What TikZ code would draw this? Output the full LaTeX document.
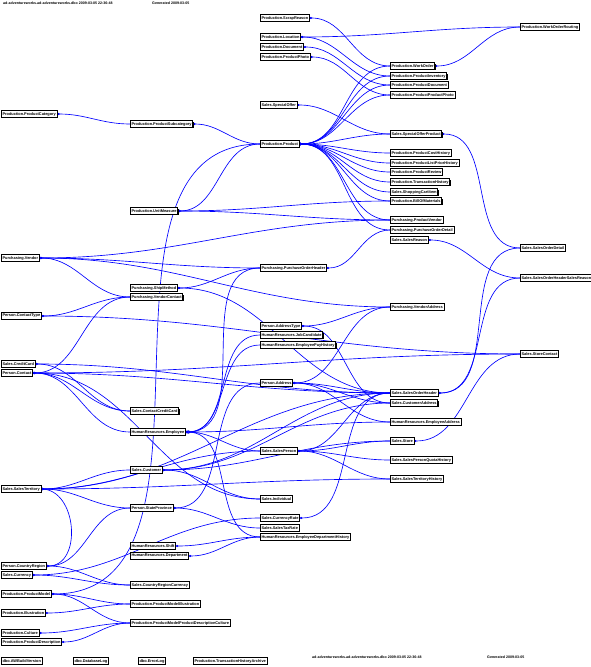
\documentclass[tikz,border=0pt]{standalone}
\usepackage{fontspec}
\setmainfont{Liberation Sans}
\usetikzlibrary{arrows.meta,shadows}
\pgfdeclarelayer{bg}
\pgfsetlayers{bg,main}
\tikzset{
  tbl/.style={draw=black, line width=0.75pt, fill=white, anchor=west,
    font=\fontsize{3.9}{4}\selectfont\bfseries, inner xsep=1.2pt, inner ysep=0pt,
    minimum height=6.3pt,
    drop shadow={shadow xshift=0.8pt, shadow yshift=-0.8pt, opacity=1, fill=black}},
  link/.style={draw=blue, line width=0.65pt, {Circle[length=2.2pt]}-},
  hdr/.style={anchor=west, inner sep=0pt, font=\fontsize{3.6}{4}\selectfont\bfseries},
}
\newcommand\lk[2]{\draw[link] (#1.east) to[out=0,in=180] (#2.west);}
\begin{document}
\begin{tikzpicture}[x=1pt,y=-1pt]
\useasboundingbox (0,0) rectangle (591,667);
% header / footer
\node[hdr] (h1) at (3,3) {ad-adventureworks.ad-adventureworks.dbo 2009-03-05 22:36:48};
\node[hdr] (h2) at (152,3) {Generated 2009-03-05};
\node[hdr] (f1) at (312,657) {ad-adventureworks.ad-adventureworks.dbo 2009-03-05 22:36:48};
\node[hdr] (f2) at (487,657) {Generated 2009-03-05};
% rank 0
\node[tbl] (pcat) at (1,114) {Production.ProductCategory};
\node[tbl] (vendor) at (1,258) {Purchasing.Vendor};
\node[tbl] (ctype) at (1,316) {Person.ContactType};
\node[tbl] (ccard) at (1,364) {Sales.CreditCard};
\node[tbl] (contact) at (1,373) {Person.Contact};
\node[tbl] (terr) at (1,489) {Sales.SalesTerritory};
\node[tbl] (country) at (1,566) {Person.CountryRegion};
\node[tbl] (curr) at (1,575) {Sales.Currency};
\node[tbl] (pmodel) at (1,594) {Production.ProductModel};
\node[tbl] (illus) at (1,613) {Production.Illustration};
\node[tbl] (culture) at (1,633) {Production.Culture};
\node[tbl] (pdesc) at (1,642) {Production.ProductDescription};
% rank 1
\node[tbl] (psub) at (130,124) {Production.ProductSubcategory};
\node[tbl] (um) at (130,211) {Production.UnitMeasure};
\node[tbl] (ship) at (130,288) {Purchasing.ShipMethod};
\node[tbl] (vcontact) at (130,297) {Purchasing.VendorContact};
\node[tbl] (cccard) at (130,411) {Sales.ContactCreditCard};
\node[tbl] (emp) at (130,432) {HumanResources.Employee};
\node[tbl] (cust) at (130,470) {Sales.Customer};
\node[tbl] (state) at (130,508) {Person.StateProvince};
\node[tbl] (shift) at (130,546) {HumanResources.Shift};
\node[tbl] (dept) at (130,556) {HumanResources.Department};
\node[tbl] (crc) at (130,585) {Sales.CountryRegionCurrency};
\node[tbl] (pmi) at (130,604) {Production.ProductModelIllustration};
\node[tbl] (pmpdc) at (130,623) {Production.ProductModelProductDescriptionCulture};
% rank 2
\node[tbl] (scrap) at (260,18) {Production.ScrapReason};
\node[tbl] (loc) at (260,37) {Production.Location};
\node[tbl] (doc) at (260,47) {Production.Document};
\node[tbl] (photo) at (260,57) {Production.ProductPhoto};
\node[tbl] (soffer) at (260,105) {Sales.SpecialOffer};
\node[tbl] (product) at (260,144) {Production.Product};
\node[tbl] (poh) at (260,268) {Purchasing.PurchaseOrderHeader};
\node[tbl] (atype) at (260,326) {Person.AddressType};
\node[tbl] (job) at (260,335) {HumanResources.JobCandidate};
\node[tbl] (pay) at (260,345) {HumanResources.EmployeePayHistory};
\node[tbl] (addr) at (260,383) {Person.Address};
\node[tbl] (sp) at (260,451) {Sales.SalesPerson};
\node[tbl] (indiv) at (260,499) {Sales.Individual};
\node[tbl] (crate) at (260,518) {Sales.CurrencyRate};
\node[tbl] (tax) at (260,528) {Sales.SalesTaxRate};
\node[tbl] (edh) at (260,537) {HumanResources.EmployeeDepartmentHistory};
% rank 3
\node[tbl] (wo) at (390,66) {Production.WorkOrder};
\node[tbl] (pinv) at (390,76) {Production.ProductInventory};
\node[tbl] (pdoc) at (390,85) {Production.ProductDocument};
\node[tbl] (ppp) at (390,95) {Production.ProductProductPhoto};
\node[tbl] (sop) at (390,134) {Sales.SpecialOfferProduct};
\node[tbl] (pch) at (390,153) {Production.ProductCostHistory};
\node[tbl] (plph) at (390,163) {Production.ProductListPriceHistory};
\node[tbl] (prev) at (390,172) {Production.ProductReview};
\node[tbl] (th) at (390,182) {Production.TransactionHistory};
\node[tbl] (cart) at (390,192) {Sales.ShoppingCartItem};
\node[tbl] (bom) at (390,201) {Production.BillOfMaterials};
\node[tbl] (pv) at (390,220) {Purchasing.ProductVendor};
\node[tbl] (pod) at (390,230) {Purchasing.PurchaseOrderDetail};
\node[tbl] (reason) at (390,240) {Sales.SalesReason};
\node[tbl] (vaddr) at (390,307) {Purchasing.VendorAddress};
\node[tbl] (soh) at (390,393) {Sales.SalesOrderHeader};
\node[tbl] (caddr) at (390,403) {Sales.CustomerAddress};
\node[tbl] (eaddr) at (390,422) {HumanResources.EmployeeAddress};
\node[tbl] (store) at (390,441) {Sales.Store};
\node[tbl] (spqh) at (390,460) {Sales.SalesPersonQuotaHistory};
\node[tbl] (sth) at (390,479) {Sales.SalesTerritoryHistory};
% rank 4
\node[tbl] (wor) at (520,27) {Production.WorkOrderRouting};
\node[tbl] (sod) at (520,248) {Sales.SalesOrderDetail};
\node[tbl] (sohsr) at (520,278) {Sales.SalesOrderHeaderSalesReason};
\node[tbl] (scontact) at (520,354) {Sales.StoreContact};
% legend of isolated tables
\node[tbl] (awb) at (1,661) {dbo.AWBuildVersion};
\node[tbl] (dblog) at (73,661) {dbo.DatabaseLog};
\node[tbl] (elog) at (138,661) {dbo.ErrorLog};
\node[tbl] (tha) at (193,661) {Production.TransactionHistoryArchive};
\begin{pgfonlayer}{bg}
\lk{pcat}{psub}
\lk{psub}{product}
\lk{pmodel}{product}
\lk{um}{product}
\lk{pmodel}{pmi}
\lk{illus}{pmi}
\lk{pmodel}{pmpdc}
\lk{pdesc}{pmpdc}
\lk{culture}{pmpdc}
\lk{product}{wo}
\lk{scrap}{wo}
\lk{wo}{wor}
\lk{loc}{wor}
\lk{product}{pinv}
\lk{loc}{pinv}
\lk{product}{pdoc}
\lk{doc}{pdoc}
\lk{product}{ppp}
\lk{photo}{ppp}
\lk{product}{sop}
\lk{product}{pch}
\lk{product}{plph}
\lk{product}{prev}
\lk{product}{th}
\lk{product}{cart}
\lk{product}{bom}
\lk{product}{pv}
\lk{product}{pod}
\lk{um}{bom}
\lk{um}{pv}
\lk{soffer}{sop}
\lk{vendor}{pv}
\lk{vendor}{poh}
\lk{vendor}{vcontact}
\lk{vendor}{vaddr}
\lk{poh}{pod}
\lk{ship}{poh}
\lk{ship}{soh}
\lk{emp}{poh}
\lk{emp}{job}
\lk{emp}{pay}
\lk{emp}{sp}
\lk{emp}{eaddr}
\lk{emp}{edh}
\lk{contact}{emp}
\lk{contact}{vcontact}
\lk{contact}{cccard}
\lk{contact}{indiv}
\lk{contact}{soh}
\lk{contact}{scontact}
\lk{ctype}{vcontact}
\lk{ctype}{scontact}
\lk{ccard}{cccard}
\lk{ccard}{soh}
\lk{addr}{vaddr}
\lk{addr}{soh}
\lk{addr}{caddr}
\lk{addr}{eaddr}
\lk{atype}{vaddr}
\lk{atype}{caddr}
\lk{sop}{sod}
\lk{soh}{sod}
\lk{soh}{sohsr}
\lk{reason}{sohsr}
\lk{cust}{soh}
\lk{cust}{caddr}
\lk{cust}{indiv}
\lk{cust}{store}
\lk{terr}{cust}
\lk{terr}{state}
\lk{terr}{sp}
\lk{terr}{soh}
\lk{terr}{sth}
\lk{country}{state}
\lk{country}{crc}
\lk{curr}{crc}
\lk{curr}{crate}
\lk{crate}{soh}
\lk{state}{addr}
\lk{state}{tax}
\lk{sp}{soh}
\lk{sp}{store}
\lk{sp}{spqh}
\lk{sp}{sth}
\lk{store}{scontact}
\lk{shift}{edh}
\lk{dept}{edh}
\draw[link] (country.east) to[out=0,in=0,looseness=1.2] (terr.east);
\draw[draw=blue, line width=0.65pt] (emp.east) to[out=40,in=-40,min distance=7pt] (emp.east);
\end{pgfonlayer}
\end{tikzpicture}
\end{document}
